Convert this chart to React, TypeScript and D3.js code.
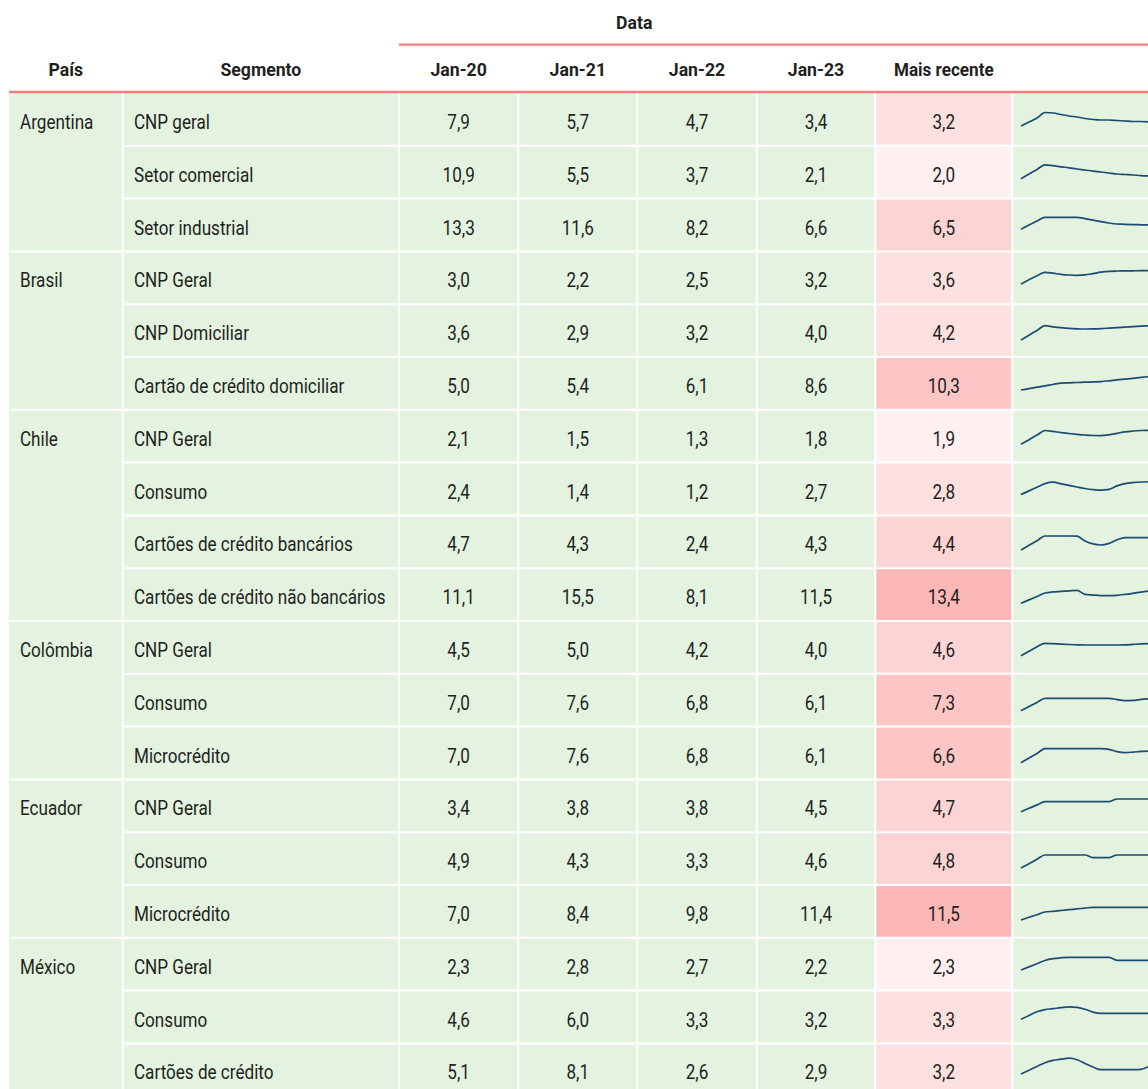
import React from "react";
import * as d3 from "d3";

const countries = ["Argentina", "Brasil", "Chile", "Colômbia", "Ecuador", "México"];
const groupSizes = [3, 3, 4, 3, 3, 3];
const segments = [
  "CNP geral", "Setor comercial", "Setor industrial",
  "CNP Geral", "CNP Domiciliar", "Cartão de crédito domiciliar",
  "CNP Geral", "Consumo", "Cartões de crédito bancários", "Cartões de crédito não bancários",
  "CNP Geral", "Consumo", "Microcrédito",
  "CNP Geral", "Consumo", "Microcrédito",
  "CNP Geral", "Consumo", "Cartões de crédito",
];
const columnLabels = ["Jan-20", "Jan-21", "Jan-22", "Jan-23", "Mais recente"];
const jan20 = [7.9, 10.9, 13.3, 3.0, 3.6, 5.0, 2.1, 2.4, 4.7, 11.1, 4.5, 7.0, 7.0, 3.4, 4.9, 7.0, 2.3, 4.6, 5.1];
const jan21 = [5.7, 5.5, 11.6, 2.2, 2.9, 5.4, 1.5, 1.4, 4.3, 15.5, 5.0, 7.6, 7.6, 3.8, 4.3, 8.4, 2.8, 6.0, 8.1];
const jan22 = [4.7, 3.7, 8.2, 2.5, 3.2, 6.1, 1.3, 1.2, 2.4, 8.1, 4.2, 6.8, 6.8, 3.8, 3.3, 9.8, 2.7, 3.3, 2.6];
const jan23 = [3.4, 2.1, 6.6, 3.2, 4.0, 8.6, 1.8, 2.7, 4.3, 11.5, 4.0, 6.1, 6.1, 4.5, 4.6, 11.4, 2.2, 3.2, 2.9];
const recent = [3.2, 2.0, 6.5, 3.6, 4.2, 10.3, 1.9, 2.8, 4.4, 13.4, 4.6, 7.3, 6.6, 4.7, 4.8, 11.5, 2.3, 3.3, 3.2];

// sparkline series (visible part)
const sparks = [
  [7, 11, 15, 20.5, 20, 18.5, 17, 16, 14.5, 13.5, 13, 13, 12.5, 12, 11.5, 11.5, 11],
  [7.1, 11.8, 16.4, 21, 20.1, 19, 18, 16.8, 15.8, 14.7, 13.8, 12.8, 11.8, 11.3, 10.8, 10.2, 9.8],
  [9.3, 13.5, 17.5, 21.3, 21.3, 21.3, 21.3, 21.2, 20, 18.5, 17, 15.6, 14.6, 14.3, 14, 13.8, 13.6],
  [7.4, 11.7, 15.7, 19, 18.2, 17.1, 16.4, 16.1, 16.5, 17.8, 19.2, 20.1, 20.4, 20.5, 20.6, 20.7, 20.7],
  [4.2, 9, 13.7, 18.5, 17.4, 16.5, 15.8, 15.4, 15.2, 15.3, 15.6, 16.1, 16.6, 17.1, 17.6, 18.1, 18.5],
  [7, 8.4, 9.8, 11.2, 12.5, 13.9, 14.2, 14.5, 14.8, 15.1, 15.4, 16.2, 17.1, 17.9, 18.7, 19.6, 20.4],
  [5.5, 10.1, 14.7, 19.3, 18.4, 17.2, 16.3, 15.5, 14.8, 14.3, 14.2, 15, 16.5, 18, 18.8, 19.3, 19.5],
  [8.1, 11.7, 15.4, 19, 20.4, 18.8, 17.2, 15.6, 14.1, 13, 12.4, 13.2, 16.7, 18.9, 20, 20.6, 20.9],
  [5.4, 10.1, 14.7, 19.4, 19.4, 19.4, 19.4, 19.2, 14.5, 11.5, 10.4, 12, 15.5, 17.7, 17.7, 17.7, 17.7],
  [4.9, 8.3, 11.7, 15.2, 16.3, 16.8, 17.3, 17.8, 13.8, 13.1, 12.6, 12.5, 12.9, 13.8, 14.9, 16.1, 17.2],
  [5.3, 9.8, 14.3, 17.7, 17.3, 16.9, 16.5, 16.2, 16, 16, 16, 16, 16, 16.1, 16.6, 17.1, 17.3],
  [3.1, 7.2, 11.4, 15.5, 15.5, 15.5, 15.5, 15.5, 15.5, 15.5, 15.5, 15.5, 14.2, 13.2, 13.4, 14.4, 15.1],
  [3.9, 8.6, 13.2, 17.9, 17.9, 17.9, 17.9, 17.9, 17.9, 17.9, 17.9, 17.2, 15, 14, 14.5, 15.2, 15.6],
  [7.7, 11.1, 14.5, 17.7, 17.7, 17.7, 17.7, 17.7, 17.7, 17.7, 17.7, 17.7, 20.4, 20.4, 20.4, 20.4, 20.4],
  [4.2, 8.5, 12.9, 17.2, 17.2, 17.2, 17.2, 17.2, 17.2, 14.5, 14.5, 14.5, 17.2, 17.2, 17.2, 17.2, 17.2],
  [5, 7.7, 10.3, 13, 13.7, 14.5, 15.3, 16.1, 16.9, 17.7, 17.7, 17.7, 17.7, 17.7, 17.7, 17.7, 17.7],
  [7.8, 10.9, 14.1, 17.3, 19.1, 20, 20.5, 20.5, 20.5, 20.5, 20.5, 20.5, 17.5, 17.5, 17.5, 17.5, 17.5],
  [11.3, 15.2, 18.8, 21, 21.9, 22.9, 23.7, 23.2, 21.4, 18.5, 17.3, 17.3, 17.3, 17.3, 17.3, 17.3, 17.3],
  [9.4, 13.2, 16.9, 20.7, 23.1, 24.2, 25.2, 23.7, 20, 16.4, 13.7, 13.7, 13.7, 13.7, 13.7, 14.1, 17],
];

const WIDTH = 1148;
const HEIGHT = 1089;
const FONT = "Roboto, 'Liberation Sans', sans-serif";
const GREEN = "#e3f3e0";
const RED_LINE = "#f37b7b";
const TEXT = "#231f20";
const SPARK = "#1c4b73";

const colEdges = [9, 122.7, 399, 518.3, 637.3, 756.7, 875.3, 1012.3, 1250];
const headTop = 93;
const rowH = 52.8;

const locale = d3.formatLocale({ decimal: ",", thousands: ".", grouping: [3], currency: ["", ""] });
const fmt = locale.format(".1f");

const recentColor = d3
  .scaleThreshold<number, string>()
  .domain([2.5, 4.3, 6.55, 11])
  .range(["#fdf0ef", "#fde0e0", "#fcd4d3", "#fcc6c6", "#fcb7b7"]);

function T(props: {
  x: number;
  y: number;
  anchor?: "start" | "middle" | "end";
  bold?: boolean;
  size?: number;
  squeeze?: number;
  children: React.ReactNode;
}) {
  const { x, y, anchor = "start", bold = false, size = 19.5, squeeze = 0.877, children } = props;
  return (
    <text
      transform={`translate(${x},${y}) scale(${squeeze},1)`}
      textAnchor={anchor}
      fontWeight={bold ? 700 : 400}
      fontSize={size}
      fill={TEXT}
    >
      {children}
    </text>
  );
}

function HeadText(props: { x: number; y: number; squeeze?: number; children: React.ReactNode }) {
  return (
    <T x={props.x} y={props.y} anchor="middle" bold size={19} squeeze={props.squeeze ?? 0.93}>
      {props.children}
    </T>
  );
}

export default function App() {
  const nRows = segments.length;
  const y = d3.scaleLinear().domain([0, nRows]).range([headTop, headTop + nRows * rowH]);
  const sx = d3.scaleLinear().domain([0, 16]).range([1021, 1149]);

  const groupStarts: number[] = [];
  let acc = 0;
  groupSizes.forEach((g) => {
    groupStarts.push(acc);
    acc += g;
  });

  const valueCols = [jan20, jan21, jan22, jan23, recent];
  const BASE = 36;

  return (
    <svg
      width={WIDTH}
      height={HEIGHT}
      style={{ position: "absolute", left: 0, top: 0, display: "block" }}
      fontFamily={FONT}
    >
      <rect x={0} y={0} width={WIDTH} height={HEIGHT} fill="#ffffff" />
      <rect x={colEdges[0]} y={headTop} width={WIDTH - colEdges[0]} height={HEIGHT - headTop} fill={GREEN} />
      {recent.map((v, i) => (
        <rect
          key={"mr" + i}
          x={colEdges[6]}
          y={y(i)}
          width={colEdges[7] - colEdges[6]}
          height={rowH}
          fill={recentColor(v)}
        />
      ))}
      {segments.map((_, i) => {
        if (i === 0) return null;
        const isGroup = groupStarts.includes(i);
        return (
          <line
            key={"rs" + i}
            x1={isGroup ? colEdges[0] : colEdges[1]}
            x2={WIDTH}
            y1={y(i)}
            y2={y(i)}
            stroke="#ffffff"
            strokeWidth={2}
          />
        );
      })}
      {colEdges.slice(1, 8).map((x, i) => (
        <line key={"cs" + i} x1={x} x2={x} y1={headTop} y2={HEIGHT} stroke="#ffffff" strokeWidth={2} />
      ))}
      <line x1={colEdges[2]} x2={WIDTH} y1={44.7} y2={44.7} stroke={RED_LINE} strokeWidth={2.2} />
      <line x1={colEdges[0]} x2={WIDTH} y1={92} y2={92} stroke={RED_LINE} strokeWidth={2.6} />
      <HeadText x={(colEdges[2] + colEdges[6]) / 2 - 3} y={28.5}>
        Data
      </HeadText>
      <HeadText x={(colEdges[0] + colEdges[1]) / 2} y={76}>
        País
      </HeadText>
      <HeadText x={(colEdges[1] + colEdges[2]) / 2} y={76}>
        Segmento
      </HeadText>
      {columnLabels.map((c, i) => (
        <HeadText
          key={"h" + i}
          x={(colEdges[i + 2] + colEdges[i + 3]) / 2}
          y={76}
          squeeze={i === 4 ? 0.9 : 0.93}
        >
          {c}
        </HeadText>
      ))}
      {countries.map((c, k) => (
        <T key={"c" + k} x={20} y={y(groupStarts[k]) + BASE}>
          {c}
        </T>
      ))}
      {segments.map((s, i) => (
        <T key={"s" + i} x={134} y={y(i) + BASE}>
          {s}
        </T>
      ))}
      {valueCols.map((col, j) =>
        col.map((v, i) => (
          <T key={"v" + j + "-" + i} x={(colEdges[j + 2] + colEdges[j + 3]) / 2} y={y(i) + BASE} anchor="middle">
            {fmt(v)}
          </T>
        ))
      )}
      {sparks.map((s, i) => {
        const sy = d3.scaleLinear().domain([0, 30]).range([y(i) + 40, y(i) + 10]);
        const line = d3
          .line<number>()
          .x((_, k) => sx(k))
          .y((v) => sy(v))
          .curve(d3.curveMonotoneX);
        return <path key={"sp" + i} d={line(s) || ""} fill="none" stroke={SPARK} strokeWidth={1.7} />;
      })}
    </svg>
  );
}
